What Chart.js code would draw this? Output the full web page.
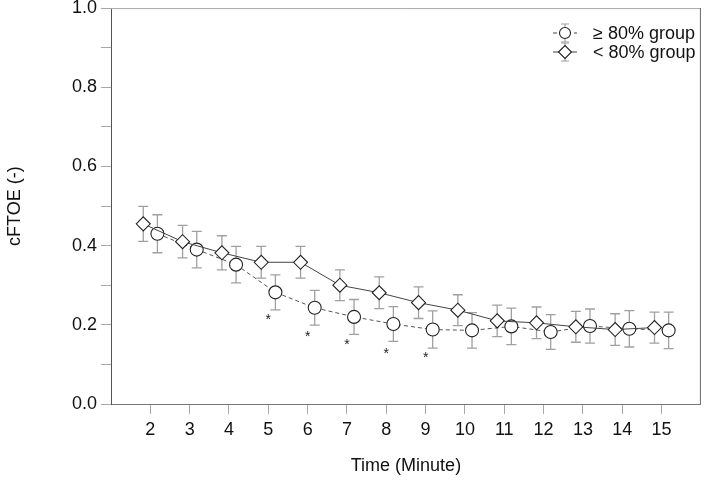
<!DOCTYPE html>
<html>
<head>
<meta charset="utf-8">
<script src="https://cdn.jsdelivr.net/npm/chart.js@4"></script>
<style>
  body { margin: 0; background: #fff; }
  #wrap { width: 709px; height: 481px; }
</style>
</head>
<body>
<div id="wrap"><canvas id="cftoeChart" width="709" height="481"></canvas></div>
<script>
// minutes on x axis
const minutes = [2, 3, 4, 5, 6, 7, 8, 9, 10, 11, 12, 13, 14, 15];

// >= 80% group (circles, dashed)
const highMean = [0.430, 0.390, 0.352, 0.282, 0.243, 0.220, 0.202, 0.188, 0.186, 0.196, 0.182, 0.197, 0.190, 0.186];
const highErr  = [0.048, 0.046, 0.046, 0.044, 0.044, 0.044, 0.044, 0.047, 0.045, 0.046, 0.044, 0.043, 0.046, 0.046];

// < 80% group (diamonds, solid)
const lowMean = [0.455, 0.410, 0.382, 0.358, 0.358, 0.300, 0.281, 0.256, 0.237, 0.210, 0.205, 0.195, 0.188, 0.193];
const lowErr  = [0.044, 0.041, 0.043, 0.040, 0.040, 0.039, 0.040, 0.040, 0.039, 0.040, 0.040, 0.039, 0.040, 0.039];

// significance markers
const sigMinutes = [5, 6, 7, 8, 9];
const sigLevel   = [0.220, 0.176, 0.157, 0.134, 0.123];

const yTicks = [0, 0.1, 0.2, 0.3, 0.4, 0.5, 0.6, 0.7, 0.8, 0.9, 1.0];

const FONT = "Liberation Sans, Arial, sans-serif";
const SHIFT = 0.18;

const highPoints = minutes.map((m, i) => ({ x: m + SHIFT, y: highMean[i], e: highErr[i] }));
const lowPoints = minutes.map((m, i) => ({ x: m - SHIFT, y: lowMean[i], e: lowErr[i] }));

const errorBars = {
  id: "errorBars",
  beforeDatasetsDraw(chart) {
    const { ctx, scales } = chart;
    ctx.save();
    ctx.strokeStyle = "#a0a0a0";
    ctx.lineWidth = 1.3;
    chart.data.datasets.forEach((ds) => {
      ds.data.forEach((p) => {
        const x = scales.x.getPixelForValue(p.x);
        const top = scales.y.getPixelForValue(p.y + p.e);
        const bot = scales.y.getPixelForValue(p.y - p.e);
        ctx.beginPath();
        ctx.moveTo(x, top); ctx.lineTo(x, bot);
        ctx.moveTo(x - 5, top); ctx.lineTo(x + 5, top);
        ctx.moveTo(x - 5, bot); ctx.lineTo(x + 5, bot);
        ctx.stroke();
      });
    });
    ctx.restore();
  },
  afterDraw(chart) {
    const { ctx, scales, chartArea } = chart;
    ctx.save();
    // frame: top and right
    ctx.strokeStyle = "#a8a8a8";
    ctx.lineWidth = 1;
    ctx.beginPath();
    ctx.moveTo(chartArea.left, chartArea.top + 0.5);
    ctx.lineTo(chartArea.right, chartArea.top + 0.5);
    ctx.stroke();
    ctx.strokeStyle = "#666";
    ctx.beginPath();
    ctx.moveTo(chartArea.right - 0.5, chartArea.top);
    ctx.lineTo(chartArea.right - 0.5, chartArea.bottom);
    ctx.stroke();

    // asterisks
    ctx.fillStyle = "#222";
    ctx.font = "14px " + FONT;
    ctx.textAlign = "center";
    ctx.textBaseline = "middle";
    sigMinutes.forEach((m, i) => {
      ctx.fillText("*", scales.x.getPixelForValue(m), scales.y.getPixelForValue(sigLevel[i]) + 3);
    });

    // legend
    const entries = [
      { label: "\u2265 80% group", style: "circle", dash: [4, 3], y: 33 },
      { label: "< 80% group", style: "rectRot", dash: [], y: 52 },
    ];
    const lx = 565;
    entries.forEach((en) => {
      ctx.strokeStyle = "#a0a0a0";
      ctx.lineWidth = 1.2;
      ctx.setLineDash([]);
      ctx.beginPath();
      ctx.moveTo(lx, en.y - 9); ctx.lineTo(lx, en.y + 9);
      ctx.moveTo(lx - 4, en.y - 9); ctx.lineTo(lx + 4, en.y - 9);
      ctx.moveTo(lx - 4, en.y + 9); ctx.lineTo(lx + 4, en.y + 9);
      ctx.stroke();
      ctx.strokeStyle = "#444";
      ctx.lineWidth = 1;
      ctx.setLineDash(en.dash);
      ctx.beginPath();
      ctx.moveTo(lx - 12, en.y); ctx.lineTo(lx + 12, en.y);
      ctx.stroke();
      ctx.setLineDash([]);
      ctx.fillStyle = "#fff";
      ctx.strokeStyle = "#222";
      ctx.lineWidth = 1.1;
      Chart.helpers.drawPoint(ctx, { pointStyle: en.style, radius: en.style === "circle" ? 5.5 : 6.5, borderWidth: 1.1 }, lx, en.y);
      ctx.fillStyle = "#111";
      ctx.font = "18px " + FONT;
      ctx.textAlign = "left";
      ctx.textBaseline = "middle";
      ctx.fillText(en.label, 593, en.y + 1);
    });
    ctx.restore();
  },
};

new Chart(document.getElementById("cftoeChart"), {
  type: "scatter",
  data: {
    datasets: [
      {
        label: "\u2265 80% group",
        data: highPoints,
        showLine: true,
        borderColor: "#555",
        borderWidth: 1,
        borderDash: [4, 3],
        pointStyle: "circle",
        pointRadius: 6.5,
        pointBorderColor: "#222",
        pointBackgroundColor: "#fff",
        pointBorderWidth: 1.1,
        order: 2,
      },
      {
        label: "< 80% group",
        data: lowPoints,
        showLine: true,
        borderColor: "#444",
        borderWidth: 1,
        pointStyle: "rectRot",
        pointRadius: 7,
        pointBorderColor: "#222",
        pointBackgroundColor: "#fff",
        pointBorderWidth: 1.1,
        order: 1,
      },
    ],
  },
  options: {
    responsive: false,
    animation: false,
    layout: { padding: { top: 7, right: 2, left: 0, bottom: 0 } },
    plugins: { legend: { display: false }, tooltip: { enabled: false } },
    scales: {
      x: {
        type: "linear",
        min: 1,
        max: 16,
        afterBuildTicks: (s) => { s.ticks = minutes.map((v) => ({ value: v })); },
        ticks: { color: "#111", font: { family: FONT, size: 18 }, padding: 5, callback: (v) => String(v) },
        grid: { drawOnChartArea: false, color: "#a8a8a8", tickLength: 10 },
        border: { color: "#777", width: 1 },
        title: { display: true, text: "Time (Minute)", color: "#111", font: { family: FONT, size: 18 }, padding: { top: 6 } },
        afterFit: (s) => { s.height = 77; },
      },
      y: {
        min: 0,
        max: 1,
        afterBuildTicks: (s) => { s.ticks = yTicks.map((v) => ({ value: v })); },
        ticks: {
          color: "#111",
          font: { family: FONT, size: 18 },
          padding: 4,
          callback: (v) => (Math.round(v * 10) % 2 === 0 ? v.toFixed(1) : ""),
        },
        grid: { drawOnChartArea: false, color: "#a8a8a8", tickLength: 10 },
        border: { color: "#555", width: 1 },
        title: { display: true, text: "cFTOE (-)", color: "#111", font: { family: FONT, size: 18 }, padding: { top: 4, bottom: 8 } },
        afterFit: (s) => { s.width = 111; s.paddingTop = 0; s.paddingBottom = 0; },
      },
    },
  },
  plugins: [errorBars],
});
</script>
</body>
</html>
